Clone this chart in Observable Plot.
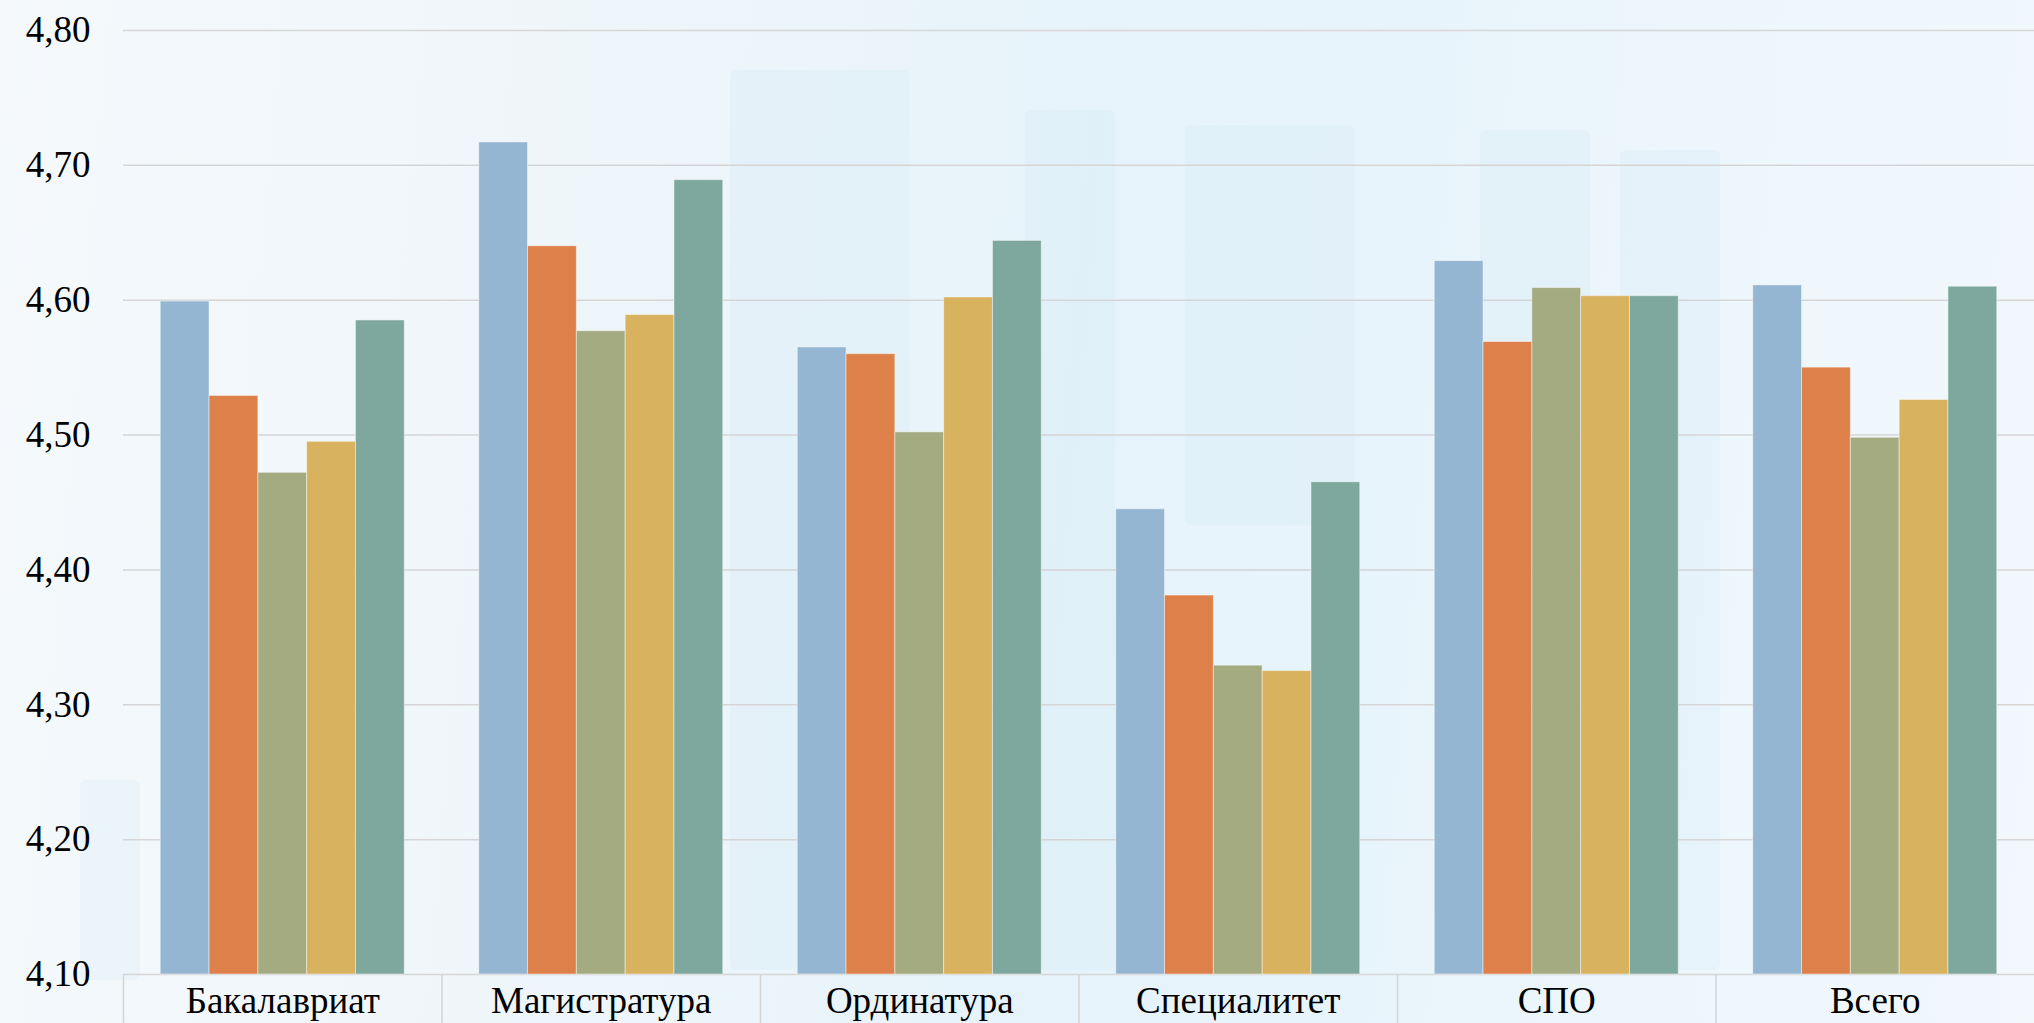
<!DOCTYPE html>
<html>
<head>
<meta charset="utf-8">
<script src="https://cdn.jsdelivr.net/npm/d3@7"></script>
<script src="https://cdn.jsdelivr.net/npm/@observablehq/plot@0.6"></script>
<style>
  html, body { margin: 0; padding: 0; width: 2034px; height: 1023px; overflow: hidden; }
  body {
    position: relative;
    background: linear-gradient(95deg, #f5f9fc 0%, #eff6fa 28%, #e6f3fa 52%, #e8f4fb 68%, #eef7fc 85%, #f2f8fc 100%);
  }
  .deco { position: absolute; background: rgba(200, 228, 246, 0.18); border-radius: 6px; }
  #chart { position: absolute; left: 0; top: 0; }
</style>
</head>
<body>
<div class="deco" style="left:730px;top:70px;width:180px;height:900px;"></div>
<div class="deco" style="left:1025px;top:110px;width:90px;height:860px;"></div>
<div class="deco" style="left:1185px;top:125px;width:170px;height:400px;"></div>
<div class="deco" style="left:1480px;top:130px;width:110px;height:840px;"></div>
<div class="deco" style="left:1620px;top:150px;width:100px;height:820px;"></div>
<div class="deco" style="left:80px;top:780px;width:60px;height:200px;"></div>
<div id="chart"></div>
<script>
const categories = ["Бакалавриат", "Магистратура", "Ординатура", "Специалитет", "СПО", "Всего"];
const seriesNames = ["Ряд 1", "Ряд 2", "Ряд 3", "Ряд 4", "Ряд 5"];
const series1 = [4.599, 4.717, 4.565, 4.445, 4.629, 4.611];
const series2 = [4.529, 4.640, 4.560, 4.381, 4.569, 4.550];
const series3 = [4.472, 4.577, 4.502, 4.329, 4.609, 4.498];
const series4 = [4.495, 4.589, 4.602, 4.325, 4.603, 4.526];
const series5 = [4.585, 4.689, 4.644, 4.465, 4.603, 4.610];
const yTicks = [4.10, 4.20, 4.30, 4.40, 4.50, 4.60, 4.70, 4.80];
const seriesColors = ["#95B6D3", "#DE804A", "#A4AB80", "#D8B25E", "#7EA89D"];

const allSeries = [series1, series2, series3, series4, series5];
const data = [];
categories.forEach((c, i) => {
  allSeries.forEach((s, j) => {
    data.push({category: c, series: seriesNames[j], value: s[i]});
  });
});

const W = 2034, H = 1023, ML = 123, MR = 0, MT = 30, MB = 49;
const slot = (W - ML - MR) / categories.length;
const fmt = d => d.toFixed(2).replace(".", ",");

const chart = Plot.plot({
  width: W,
  height: H,
  marginLeft: ML,
  marginRight: MR,
  marginTop: MT,
  marginBottom: MB,
  style: {fontFamily: "'Liberation Serif', 'Times New Roman', serif", fontSize: "37px", background: "transparent", color: "#000", overflow: "visible"},
  fx: {domain: categories, padding: 0, paddingInner: 0, paddingOuter: 0, round: false, label: null},
  x: {domain: seriesNames, axis: null, paddingInner: 0, paddingOuter: 0.763, round: false},
  y: {domain: [yTicks[0], yTicks[yTicks.length - 1]], label: null},
  color: {domain: seriesNames, range: seriesColors},
  marks: [
    Plot.gridY(yTicks, {stroke: "#d5d5d5", strokeOpacity: 1, strokeWidth: 1.5}),
    Plot.barY(data, {
      fx: "category", x: "series", y1: yTicks[0], y2: "value",
      fill: "series", stroke: "#ffffff", strokeOpacity: 0.45, strokeWidth: 1
    }),
    Plot.axisY({ticks: yTicks, tickSize: 0, tickPadding: 33, tickFormat: fmt, label: null, fill: "#000"}),
    Plot.axisFx({anchor: "bottom", tickSize: MB, tickFormat: () => "", dx: -slot / 2, stroke: "#d5d5d5", strokeWidth: 1.5, strokeOpacity: 1, label: null}),
    Plot.axisFx({anchor: "bottom", tickSize: 0, tickPadding: 12, label: null, fill: "#000"})
  ]
});
document.getElementById("chart").appendChild(chart);
</script>
</body>
</html>
